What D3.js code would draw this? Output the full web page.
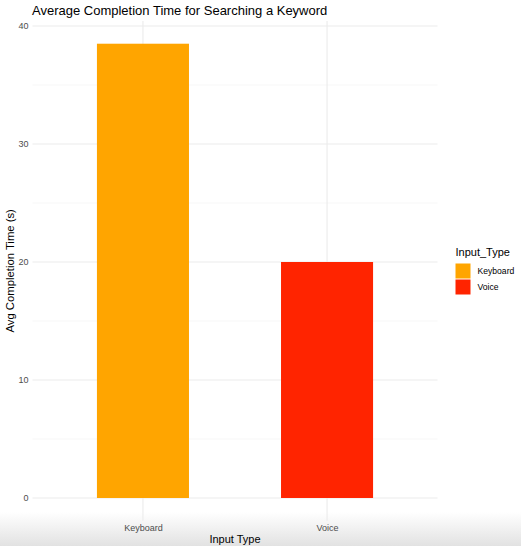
<!DOCTYPE html>
<html>
<head>
<meta charset="utf-8">
<script src="https://cdn.jsdelivr.net/npm/d3@7"></script>
<style>
  body { margin: 0; background: #fff; }
  text { font-family: "Liberation Sans", Arial, sans-serif; }
</style>
</head>
<body>
<div id="chart"></div>
<script>
// Chart data
const inputTypes = ["Keyboard", "Voice"];
const avgTimes = [38.5, 20.0];
const barColors = ["#FFA500", "#FF2400"];
const yTicks = [0, 10, 20, 30, 40];
const yMinorTicks = [5, 15, 25, 35];

const width = 521;
const height = 546;

const svg = d3
  .select("#chart")
  .append("svg")
  .attr("width", width)
  .attr("height", height);

// Screenshot shading along the bottom edge
const defs = svg.append("defs");
const grad = defs
  .append("linearGradient")
  .attr("id", "shade")
  .attr("x1", 0)
  .attr("y1", 0)
  .attr("x2", 0)
  .attr("y2", 1);
grad.append("stop").attr("offset", "0%").attr("stop-color", "#ffffff");
grad.append("stop").attr("offset", "100%").attr("stop-color", "#e2e2e2");
svg
  .append("rect")
  .attr("x", 0)
  .attr("y", 512)
  .attr("width", width)
  .attr("height", height - 512)
  .attr("fill", "url(#shade)");

// Panel extents
const panelLeft = 32.5;
const panelRight = 437.5;
const panelTop = 21;
const panelBottom = 520.7;

// x: discrete positions with ggplot-like 0.6 expansion
const x = d3
  .scalePoint()
  .domain(inputTypes)
  .range([panelLeft, panelRight])
  .padding(0.6);
const step = x.step();
const barWidth = step * 0.5;

// y: continuous with 5% expansion
const yMax = d3.max(avgTimes);
const pad = yMax * 0.05;
const y = d3
  .scaleLinear()
  .domain([-pad, yMax + pad])
  .range([panelBottom, panelTop]);

// Gridlines
svg
  .selectAll("line.minor")
  .data(yMinorTicks)
  .enter()
  .append("line")
  .attr("x1", panelLeft)
  .attr("x2", panelRight)
  .attr("y1", (d) => y(d))
  .attr("y2", (d) => y(d))
  .attr("stroke", "#f2f2f2")
  .attr("stroke-width", 0.6);

svg
  .selectAll("line.major")
  .data(yTicks)
  .enter()
  .append("line")
  .attr("x1", panelLeft)
  .attr("x2", panelRight)
  .attr("y1", (d) => y(d))
  .attr("y2", (d) => y(d))
  .attr("stroke", "#ebebeb")
  .attr("stroke-width", 1.1);

svg
  .selectAll("line.vgrid")
  .data(inputTypes)
  .enter()
  .append("line")
  .attr("x1", (d) => x(d))
  .attr("x2", (d) => x(d))
  .attr("y1", panelTop)
  .attr("y2", panelBottom)
  .attr("stroke", "#ebebeb")
  .attr("stroke-width", 1.1);

// Bars
svg
  .selectAll("rect.bar")
  .data(inputTypes)
  .enter()
  .append("rect")
  .attr("class", "bar")
  .attr("x", (d) => x(d) - barWidth / 2)
  .attr("width", barWidth)
  .attr("y", (d, i) => y(avgTimes[i]))
  .attr("height", (d, i) => y(0) - y(avgTimes[i]))
  .attr("fill", (d, i) => barColors[i]);

// Axes (text only, ggplot minimal style)
const yAxis = svg
  .append("g")
  .attr("transform", `translate(${panelLeft - 2},0)`)
  .call(d3.axisLeft(y).tickValues(yTicks).tickSize(0).tickPadding(2));
yAxis.select(".domain").remove();
yAxis
  .selectAll("text")
  .attr("fill", "#4d4d4d")
  .style("font-size", "9px");

const xAxis = svg
  .append("g")
  .attr("transform", `translate(0,${panelBottom})`)
  .call(d3.axisBottom(x).tickSize(0).tickPadding(4));
xAxis.select(".domain").remove();
xAxis
  .selectAll("text")
  .attr("fill", "#4d4d4d")
  .style("font-size", "9px");

// Titles
svg
  .append("text")
  .attr("x", 32)
  .attr("y", 15)
  .style("font-size", "13px")
  .attr("fill", "#000")
  .text("Average Completion Time for Searching a Keyword");

svg
  .append("text")
  .attr("x", (panelLeft + panelRight) / 2)
  .attr("y", 543)
  .attr("text-anchor", "middle")
  .style("font-size", "11px")
  .attr("fill", "#000")
  .text("Input Type");

svg
  .append("text")
  .attr("transform", `translate(14,${(panelTop + panelBottom) / 2}) rotate(-90)`)
  .attr("text-anchor", "middle")
  .style("font-size", "11.3px")
  .attr("fill", "#000")
  .text("Avg Completion Time (s)");

// Legend
const legend = svg.append("g").attr("transform", "translate(455.5,0)");
legend
  .append("text")
  .attr("x", 0)
  .attr("y", 256)
  .style("font-size", "11px")
  .attr("fill", "#000")
  .text("Input_Type");

const keyPitch = 16;
const keySize = 15;
const items = legend
  .selectAll("g.item")
  .data(inputTypes)
  .enter()
  .append("g")
  .attr("transform", (d, i) => `translate(0,${263.5 + i * keyPitch})`);

items
  .append("rect")
  .attr("width", keySize)
  .attr("height", keySize)
  .attr("fill", (d, i) => barColors[i]);

items
  .append("text")
  .attr("x", 22)
  .attr("y", keySize / 2 + 3)
  .style("font-size", "8.6px")
  .attr("fill", "#000")
  .text((d) => d);
</script>
</body>
</html>
